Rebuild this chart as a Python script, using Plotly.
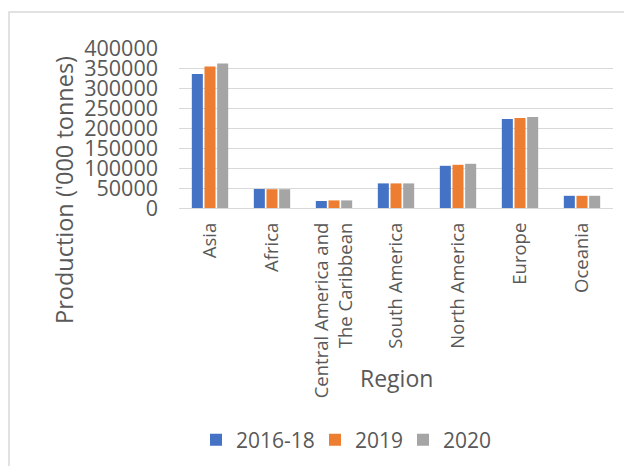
import plotly.graph_objects as go

regions = ["Asia", "Africa", "Central America and<br>The Caribbean", "South America",
           "North America", "Europe", "Oceania"]
series_names = ["2016-18", "2019", "2020"]
v_2016_18 = [335000, 47500, 17500, 61500, 105500, 222500, 30500]
v_2019 = [354000, 47000, 19000, 61500, 108000, 225000, 30500]
v_2020 = [361500, 47000, 19000, 61500, 110500, 227500, 30500]
colors = ["#4472C4", "#ED7D31", "#A5A5A5"]
legend_widths = [74, 43, 50]
y_ticks = list(range(0, 400001, 50000))

# the page body adds an 8px offset; work in reference-pixel coordinates
OFF = 8
W, H = 632 - OFF, 466 - OFF
L, T = 179 - OFF, 48 - OFF
R = W - (613 - OFF)
B = H - (208 - OFF)
pw, ph = W - L - R, H - T - B

def px_x(x):
    return (x - OFF - L) / pw

def px_y(y):
    return (H - B - (y - OFF)) / ph

fig = go.Figure()
for name, vals, c, lw in zip(series_names, [v_2016_18, v_2019, v_2020], colors, legend_widths):
    fig.add_trace(go.Bar(x=regions, y=vals, name=name, legendwidth=lw,
                         marker=dict(color=c, line=dict(width=0))))

font = "Open Sans, DejaVu Sans, sans-serif"
fig.update_layout(
    width=W, height=H,
    margin=dict(l=L, r=R, t=T, b=B, autoexpand=False),
    paper_bgcolor="white", plot_bgcolor="white",
    barmode="group", bargap=0.387, bargroupgap=0.13,
    font=dict(family=font, color="#595959"),
    showlegend=True,
    legend=dict(orientation="h", x=px_x(196), xanchor="left", y=px_y(440), yanchor="middle",
                font=dict(size=21, color="#595959"), itemsizing="constant",
                tracegroupgap=0),
    xaxis=dict(tickangle=-90, tickfont=dict(size=18.5, color="#595959"), showgrid=False,
               showline=False, ticks="", ticklabelstandoff=10, fixedrange=True, automargin=False),
    yaxis=dict(range=[0, 400000], tickvals=y_ticks, ticktext=[str(v) for v in y_ticks],
               tickfont=dict(size=21.5, color="#595959"), gridcolor="#d9d9d9", gridwidth=1.3,
               zeroline=True, zerolinecolor="#d9d9d9", zerolinewidth=1.3, showline=False,
               ticks="", ticklabelstandoff=20, automargin=False),
    annotations=[
        dict(text="Production ('000 tonnes)", xref="paper", yref="paper", x=px_x(64), y=px_y(190),
             textangle=-90, showarrow=False, font=dict(size=23.5, color="#595959"),
             xanchor="center", yanchor="middle"),
        dict(text="Region", xref="paper", yref="paper", x=px_x(396), y=px_y(378),
             showarrow=False, font=dict(size=23, color="#595959"),
             xanchor="center", yanchor="middle"),
    ],
    shapes=[
        dict(type="rect", xref="paper", yref="paper", x0=px_x(9), x1=px_x(700),
             y0=px_y(520), y1=px_y(12), line=dict(color="#d9d9d9", width=1.5),
             fillcolor="rgba(0,0,0,0)", layer="below"),
    ],
)

fig.write_html("out.html")
